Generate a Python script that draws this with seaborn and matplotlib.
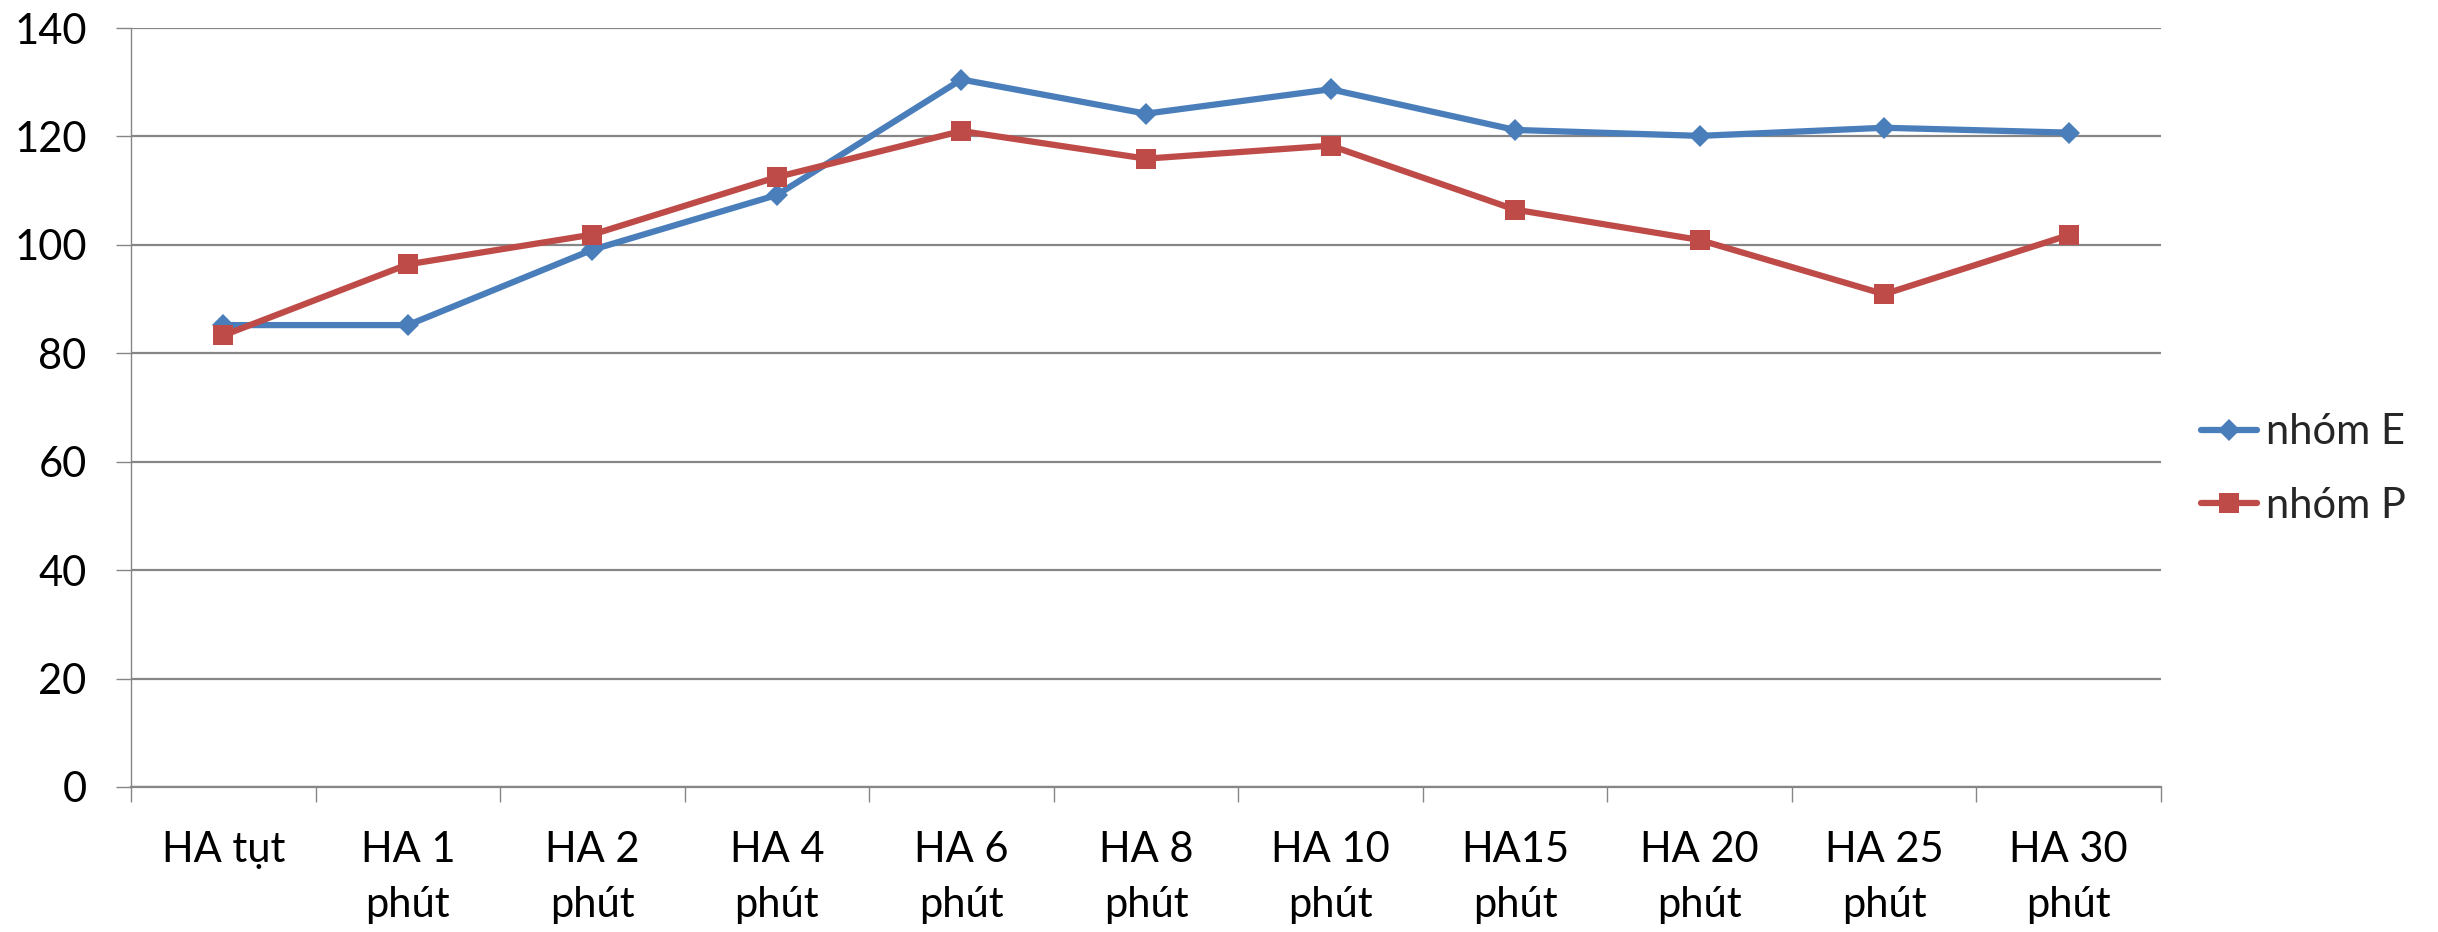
import numpy as np
import pandas as pd
import matplotlib
matplotlib.use("Agg")
import matplotlib.pyplot as plt
import seaborn as sns

categories = ["HA tụt", "HA 1\nphút", "HA 2\nphút", "HA 4\nphút", "HA 6\nphút",
              "HA 8\nphút", "HA 10\nphút", "HA15\nphút", "HA 20\nphút",
              "HA 25\nphút", "HA 30\nphút"]
nhom_E = [85.2, 85.2, 99.1, 109.2, 130.5, 124.2, 128.7, 121.2, 120.1, 121.6, 120.7]
nhom_P = [83.3, 96.4, 101.9, 112.5, 121.0, 115.9, 118.3, 106.5, 100.9, 90.9, 101.8]
series_names = ["nhóm E", "nhóm P"]
y_ticks = [0, 20, 40, 60, 80, 100, 120, 140]

df = pd.DataFrame({
    "cat": categories * 2,
    "val": nhom_E + nhom_P,
    "group": [series_names[0]] * len(categories) + [series_names[1]] * len(categories),
})

sns.set_theme(style="white")
plt.rcParams["font.family"] = ["Lato", "DejaVu Sans"]

BLUE = "#4A7EBB"
RED = "#BE4B48"
GRID = "#868686"
FS = 30

fig = plt.figure(figsize=(24.38, 9.32), dpi=100)
ax = fig.add_axes([131 / 2438, 1 - 787 / 932, (2161 - 131) / 2438, (787 - 28) / 932])

sns.pointplot(data=df, x="cat", y="val", hue="group", order=categories,
              hue_order=series_names, palette=[BLUE, RED], markers=["D", "s"],
              linestyles=["-", "-"], errorbar=None, dodge=False, ax=ax,
              markersize=12, linewidth=4.5, markeredgewidth=0, legend=True)

# marker sizes per shape
for ln in ax.lines:
    m = ln.get_marker()
    if m == "D":
        ln.set_markersize(11.5)
    elif m == "s":
        ln.set_markersize(14)

ax.set_xlim(-0.5, len(categories) - 0.5)
ax.set_ylim(0, 140)
ax.set_yticks(y_ticks)
ax.set_yticklabels([str(t) for t in y_ticks])
ax.set_xlabel("")
ax.set_ylabel("")

ax.grid(axis="y", color=GRID, linewidth=1.6)
ax.grid(axis="x", visible=False)
ax.set_axisbelow(True)

for s in ["top", "right"]:
    ax.spines[s].set_visible(False)
ax.spines["left"].set_color(GRID)
ax.spines["left"].set_linewidth(1.0)
ax.spines["bottom"].set_color(GRID)
ax.spines["bottom"].set_linewidth(1.6)

ax.set_xticks(np.arange(-0.5, len(categories), 1.0), minor=True)
ax.tick_params(axis="x", which="major", length=0, pad=32, labelsize=FS,
               labelcolor="black")
ax.tick_params(axis="x", which="minor", length=11, width=1.0, color=GRID,
               bottom=True)
ax.tick_params(axis="y", which="major", length=11, width=1.0, color=GRID,
               left=True, pad=21, labelsize=FS, labelcolor="black")
for lab in ax.get_xticklabels():
    lab.set_linespacing(1.53)
    lab.set_verticalalignment("top")

handles, labels = ax.get_legend_handles_labels()
ax.get_legend().remove()
leg = fig.legend(handles, labels, loc="center left", bbox_to_anchor=(2201 / 2438, 0.4968),
                 frameon=False, fontsize=FS, handlelength=1.35, handletextpad=0.2,
                 borderpad=0, borderaxespad=0, labelspacing=0.85)
for h in leg.legend_handles:
    mk = h.get_marker()
    if mk == "D":
        h.set_markersize(11.5)
    elif mk == "s":
        h.set_markersize(14)

fig.savefig("out.png", dpi=100, facecolor="white")
